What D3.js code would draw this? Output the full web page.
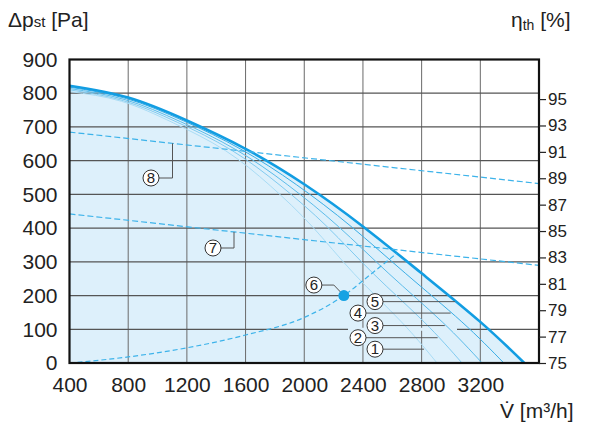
<!DOCTYPE html>
<html><head><meta charset="utf-8">
<script src="https://cdn.jsdelivr.net/npm/d3@7"></script>
<style>
body{margin:0;background:#fff}
svg{display:block}
text{font-family:'Liberation Sans',Arial,Helvetica,sans-serif;fill:#222}
</style>
</head><body>
<svg id="c" width="600" height="424"></svg>
<script>
// ---- data ----
const xTicks = [400, 800, 1200, 1600, 2000, 2400, 2800, 3200];
const yTicks = [0, 100, 200, 300, 400, 500, 600, 700, 800, 900];
const effTicks = [75, 77, 79, 81, 83, 85, 87, 89, 91, 93, 95];

// fan curves (V [m3/h], dp [Pa]); curve 5 = maximum curve
const curve1 = [[400,805],[754,776],[1108,712],[1462,630],[1770,525],[2054,405],[2339,265],[2662,122],[2905,0]];
const curve2 = [[400,810],[767,778],[1134,714],[1501,632],[1835,527],[2154,405],[2471,265],[2816,122],[3075,0]];
const curve3 = [[400,814],[778,781],[1155,716],[1533,633],[1888,528],[2232,405],[2577,265],[2940,122],[3212,0]];
const curve4 = [[400,818],[789,784],[1178,718],[1568,634],[1946,529],[2319,405],[2692,265],[3074,122],[3360,0]];
const curve5 = [[400,822],[800,787],[1200,719],[1600,635],[2000,530],[2400,405],[2800,266],[3200,122],[3500,0]];

// system curve (6) and operating point
const systemCurve = [[400,0],[800,18],[1200,45],[1600,83],[2000,135],[2270,200],[2450,262],[2630,325]];
const opPoint = [2270, 200];

// heat recovery efficiency lines (7, 8) in % on right axis
const eff7 = [[400,86.3],[3600,82.4]];
const eff8 = [[400,92.5],[3600,88.6]];

const curveLabels = ["1","2","3","4","5"];
const curveLabelP = [41, 75, 111, 148, 182];

// ---- chart ----
const svg = d3.select("#c");
const L = 69.5, R = 539, T = 59.5, B = 363;
const x = d3.scaleLinear().domain([400,3600]).range([L,R]);
const y = d3.scaleLinear().domain([0,900]).range([B,T]);
const yR = d3.scaleLinear().domain([75,98]).range([B,T]);

const curves = [curve1, curve2, curve3, curve4, curve5];
const colors = ["#a9dcf5","#82cbf0","#5cbcea","#3aaee6","#129de2"];
const widths = [1,1,1,1,2.6];
const cType = d3.curveNatural;

// fill under max curve
svg.append("path").datum(curve5)
  .attr("d", d3.area().x(d=>x(d[0])).y0(y(0)).y1(d=>y(d[1])).curve(cType))
  .attr("fill","#ddf0fb");

// grid
const g = svg.append("g");
g.selectAll(".vg").data(xTicks.slice(1)).join("line")
  .attr("x1",d=>x(d)).attr("x2",d=>x(d)).attr("y1",T).attr("y2",B)
  .attr("stroke","#6a6a6a").attr("stroke-width",1);
g.selectAll(".hg").data(yTicks.slice(1,-1)).join("line")
  .attr("x1",L).attr("x2",R).attr("y1",d=>y(d)).attr("y2",d=>y(d))
  .attr("stroke","#555").attr("stroke-width",1.2);
// gap behind labels on the 100 line
svg.append("rect").attr("x",348).attr("width",109).attr("y",y(100)-1.5).attr("height",3).attr("fill","#ddf0fb");

// curves
const line = d3.line().x(d=>x(d[0])).y(d=>y(d[1])).curve(cType);
curves.forEach((c,i)=>{
  svg.append("path").datum(c).attr("d",line).attr("fill","none")
    .attr("stroke",colors[i]).attr("stroke-width",widths[i]);
});

// dashed lines
const dashColor = "#3db3ea";
svg.append("path").datum(systemCurve)
  .attr("d", d3.line().x(d=>x(d[0])).y(d=>y(d[1])).curve(d3.curveMonotoneX))
  .attr("fill","none").attr("stroke",dashColor).attr("stroke-width",1.2).attr("stroke-dasharray","5,3");
[eff7, eff8].forEach(e=>{
  svg.append("path").datum(e)
    .attr("d", d3.line().x(d=>x(d[0])).y(d=>yR(d[1])))
    .attr("fill","none").attr("stroke",dashColor).attr("stroke-width",1.2).attr("stroke-dasharray","6,3");
});

// helper: V where curve crosses p
function vAt(c, p){
  for(let i=0;i<c.length-1;i++){
    const a=c[i], b=c[i+1];
    if((a[1]-p)*(b[1]-p)<=0){ return a[0]+(p-a[1])/(b[1]-a[1])*(b[0]-a[0]); }
  }
  return c[c.length-1][0];
}

// annotation helper
function circ(cx, cy, t){
  svg.append("circle").attr("cx",cx).attr("cy",cy).attr("r",8)
    .attr("fill","#fff").attr("stroke","#333").attr("stroke-width",1);
  svg.append("text").attr("x",cx).attr("y",cy+5.3).attr("text-anchor","middle")
    .attr("font-size",15).text(t);
}
const lead = "#555";

// labels 1-5
curves.forEach((c,i)=>{
  const py = y(curveLabelP[i]);
  const cx = (i%2===0) ? 375 : 358;
  const xe = x(vAt(c, curveLabelP[i])) - 1;
  svg.append("line").attr("x1",cx+8).attr("x2",xe).attr("y1",py).attr("y2",py)
    .attr("stroke",lead).attr("stroke-width",1);
  circ(cx, py, curveLabels[i]);
});

// operating point 6
const ox = x(opPoint[0]), oy = y(opPoint[1]);
svg.append("path").attr("d",`M${ox},${oy} L${ox-10},${oy-10.5} L${ox-22},${oy-10.5}`)
  .attr("fill","none").attr("stroke",lead).attr("stroke-width",1);
svg.append("circle").attr("cx",ox).attr("cy",oy).attr("r",5.5).attr("fill","#17a2e3");
circ(ox-30, oy-10.5, "6");

// label 8
const e8x = 172.5, e8y = yR(eff8[0][1] + (eff8[1][1]-eff8[0][1])*(x.invert(e8x)-400)/3200);
svg.append("path").attr("d",`M${e8x},${e8y} L${e8x},178 L159,178`).attr("fill","none").attr("stroke",lead);
circ(151, 178, "8");
// label 7
const e7x = 234, e7y = yR(eff7[0][1] + (eff7[1][1]-eff7[0][1])*(x.invert(e7x)-400)/3200);
svg.append("path").attr("d",`M${e7x},${e7y} L${e7x},248 L221,248`).attr("fill","none").attr("stroke",lead);
circ(213, 248, "7");

// frame
svg.append("rect").attr("x",L).attr("y",T).attr("width",R-L).attr("height",B-T)
  .attr("fill","none").attr("stroke","#111").attr("stroke-width",2.2);

// axes
const ax = svg.append("g").attr("transform",`translate(0,${B})`)
  .call(d3.axisBottom(x).tickValues(xTicks).tickSize(0).tickPadding(14).tickFormat(d3.format("d")));
const ay = svg.append("g").attr("transform",`translate(${L},0)`)
  .call(d3.axisLeft(y).tickValues(yTicks).tickSize(0).tickPadding(12));
const ar = svg.append("g").attr("transform",`translate(${R},0)`)
  .call(d3.axisRight(yR).tickValues(effTicks).tickSize(7).tickPadding(2));
[ax,ay,ar].forEach(a=>{ a.select(".domain").remove(); a.selectAll("text").attr("fill","#222").style("font-family","'Liberation Sans',Arial,sans-serif"); });
ax.selectAll("text").attr("font-size",21);
ay.selectAll("text").attr("font-size",21);
ar.selectAll("text").attr("font-size",17);
ar.selectAll("line").attr("stroke","#222").attr("stroke-width",1.2);

// titles
const t1 = svg.append("text").attr("x",8).attr("y",27).attr("font-size",21);
t1.append("tspan").text("Δp");
t1.append("tspan").attr("font-size",15).text("st");
t1.append("tspan").text(" [Pa]");

const t2 = svg.append("text").attr("x",511).attr("y",27).attr("font-size",21);
t2.append("tspan").text("η");
t2.append("tspan").attr("font-size",14).attr("dy",3).text("th");
t2.append("tspan").attr("dy",-3).text(" [%]");

svg.append("text").attr("x",500).attr("y",418).attr("font-size",21).text("V\u0307 [m³/h]");
</script>
</body></html>
